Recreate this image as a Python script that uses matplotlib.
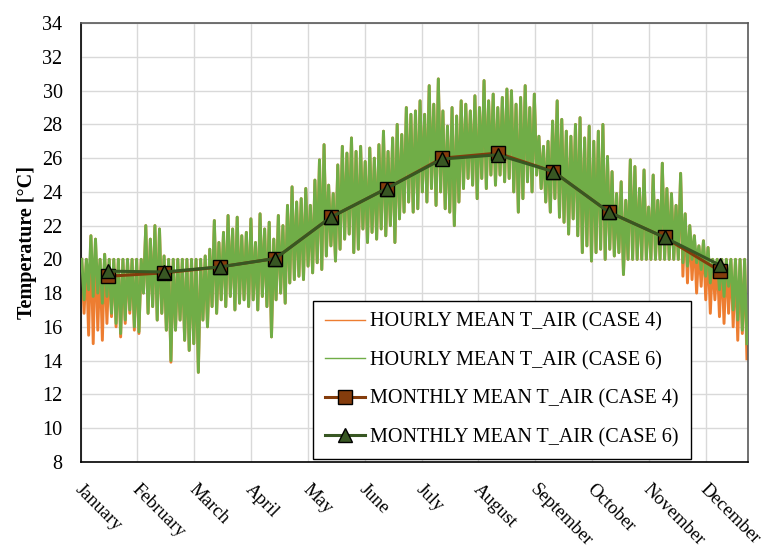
import numpy as np
import matplotlib
matplotlib.use('Agg')
import matplotlib.pyplot as plt
from matplotlib.transforms import offset_copy

plt.rcParams['font.family'] = ['Liberation Serif', 'DejaVu Serif']

months = ['January', 'February', 'March', 'April', 'May', 'June', 'July',
          'August', 'September', 'October', 'November', 'December']

# monthly mean air temperature [C]
mean_case4 = [19.0, 19.2, 19.55, 20.05, 22.5, 24.2, 26.0, 26.3, 25.2, 22.8, 21.3, 19.3]
mean_case6 = [19.3, 19.25, 19.55, 20.05, 22.5, 24.2, 25.95, 26.2, 25.2, 22.8, 21.3, 19.65]

# hourly series, peaks and troughs every 60 h (both cases share the peaks)
peak_hi = [20.0, 20.0, 21.4, 21.2, 20.0, 20.3, 20.0, 20.0, 20.0, 20.0, 20.0, 20.0, 20.0,
           20.0, 22.0, 21.2, 22.0, 21.8, 20.2, 20.0, 20.0, 20.0, 20.0, 20.0,
           20.0, 20.0, 20.0, 20.2, 20.6, 22.3, 21.0, 21.6, 22.6, 21.8, 22.5, 21.4,
           21.6, 22.4, 21.0, 22.7, 21.8, 22.2, 21.2, 22.6, 22.0, 23.2, 24.3, 23.4,
           23.6, 24.2, 23.2, 24.7, 25.9, 26.8, 24.4, 23.9, 25.6, 26.7, 26.3, 27.2,
           26.4, 26.7, 25.8, 26.6, 26.0, 26.8, 27.6, 26.4, 27.2, 28.0, 27.4, 29.0, 28.6,
           28.8, 29.4, 28.6, 30.3, 29.2, 30.7, 28.8, 27.9, 29.0, 28.5, 29.4, 29.2,
           28.8, 29.7, 29.0, 30.6, 29.4, 29.8, 29.0, 29.6, 30.1, 30.0, 29.2, 29.6,
           30.3, 29.0, 29.8, 27.3, 26.7, 27.0, 28.2, 29.4, 28.3, 27.6, 27.3, 28.0,
           28.4, 27.2, 27.9, 27.0, 27.6, 28.0, 26.1, 25.2, 23.9, 24.6, 23.5, 25.9, 25.5,
           24.2, 25.3, 23.1, 25.0, 23.5, 25.7, 24.2, 23.9, 23.2, 25.1, 22.7, 22.0,
           21.4, 20.8, 21.1, 20.7, 20.0, 20.0, 20.0, 20.0, 20.0, 20.0, 20.0, 20.0]

trough_case6 = [17.6, 18.2, 17.8, 18.0, 17.4, 17.8, 16.8, 16.2, 15.6, 16.4, 17.0, 16.0, 15.7,
                18.0, 16.8, 17.2, 16.4, 16.8, 15.8, 14.0, 15.8, 16.4, 15.2, 14.6,
                15.0, 13.3, 16.4, 16.0, 17.2, 16.8, 17.6, 17.2, 17.8, 17.0, 17.4, 17.6,
                17.2, 17.6, 17.0, 17.8, 17.2, 15.4, 17.6, 18.0, 17.4, 18.6, 18.8, 19.0,
                18.8, 19.6, 19.2, 19.8, 19.4, 20.2, 20.8, 19.9, 20.6, 21.2, 21.5, 20.4,
                20.6, 21.8, 21.0, 21.6, 21.2, 21.8, 21.4, 22.0, 21.0, 22.4, 22.8, 23.4, 22.8,
                23.0, 24.0, 23.4, 24.2, 23.2, 24.0, 23.0, 22.8, 22.0, 23.4, 24.2, 24.8,
                24.4, 23.6, 24.8, 24.2, 25.0, 24.4, 25.0, 24.6, 24.8, 24.0, 22.8, 23.6,
                24.6, 24.0, 25.0, 24.2, 23.4, 22.8, 23.6, 22.5, 22.2, 21.5, 22.4, 21.4,
                20.4, 20.8, 19.9, 20.4, 20.6, 20.0, 20.6, 20.2, 20.4, 19.1, 20.0, 20.0, 20.0,
                20.0, 20.0, 20.0, 20.0, 20.0, 20.0, 20.0, 20.0, 20.0, 19.8, 19.6, 20.0,
                19.8, 19.4, 19.0, 18.6, 19.0, 18.2, 17.8, 18.4, 17.0, 16.4, 15.8, 15.0]

trough_case4 = [16.8, 15.5, 15.0, 15.8, 15.2, 16.2, 16.6, 16.0, 15.4, 16.2, 16.8, 15.8, 15.6,
                18.0, 16.8, 17.2, 16.4, 16.8, 15.8, 13.9, 15.8, 16.4, 15.2, 14.6,
                15.0, 13.3, 16.4, 16.0, 17.2, 16.8, 17.6, 17.2, 17.8, 17.0, 17.4, 17.6,
                17.2, 17.6, 17.0, 17.8, 17.2, 15.4, 17.6, 18.0, 17.4, 18.6, 18.8, 19.0,
                18.8, 19.6, 19.2, 19.8, 19.4, 20.2, 20.8, 19.9, 20.6, 21.2, 21.5, 20.4,
                20.6, 21.8, 21.0, 21.6, 21.2, 21.8, 21.4, 22.0, 21.0, 22.4, 22.8, 23.4, 22.8,
                23.0, 24.0, 23.4, 24.2, 23.2, 24.0, 23.0, 22.8, 22.0, 23.4, 24.2, 24.8,
                24.4, 23.6, 24.8, 24.2, 25.0, 24.4, 25.0, 24.6, 24.8, 24.0, 22.8, 23.6,
                24.6, 24.0, 25.0, 24.2, 23.4, 22.8, 23.6, 22.5, 22.2, 21.5, 22.4, 21.4,
                20.4, 20.8, 19.9, 20.4, 20.6, 20.0, 20.6, 20.2, 20.4, 19.1, 20.0, 20.0, 20.0,
                20.0, 20.0, 20.0, 20.0, 20.0, 20.0, 20.0, 20.0, 20.0, 19.0, 18.6, 18.8,
                18.0, 18.4, 17.6, 16.8, 17.6, 16.6, 16.2, 16.8, 16.0, 15.2, 15.6, 14.1]

hours_year = 8760
grid_step = 746
step = hours_year / len(peak_hi)
k = np.arange(len(peak_hi))
x_hourly = np.column_stack([(k + 0.25) * step, (k + 0.75) * step]).ravel()
y_case4 = np.column_stack([peak_hi, trough_case4]).ravel()
y_case6 = np.column_stack([peak_hi, trough_case6]).ravel()

x_month = (np.arange(12) + 0.5) * hours_year / 12

fs = 14.5
fig = plt.figure(figsize=(7.68, 5.54), dpi=100)
ax = fig.add_axes([0.105, 0.1666, 0.869, 0.7914])

ax.plot(x_hourly, y_case4, color='#ED7D31', lw=2.1,
        label='HOURLY MEAN T_AIR (CASE 4)', zorder=2)
ax.plot(x_hourly, y_case6, color='#70AD47', lw=2.1,
        label='HOURLY MEAN T_AIR (CASE 6)', zorder=3)
ax.plot(x_month, mean_case4, color='#843C0C', lw=2.2, marker='s', ms=10,
        mfc='#843C0C', mec='black', mew=1.0, label='MONTHLY MEAN T_AIR (CASE 4)', zorder=4)
ax.plot(x_month, mean_case6, color='#385723', lw=2.2, marker='^', ms=10.5,
        mfc='#385723', mec='black', mew=1.0, label='MONTHLY MEAN T_AIR (CASE 6)', zorder=5)

ax.set_xlim(0, hours_year)
ax.set_ylim(8, 34)
ax.set_yticks(np.arange(8, 35, 2))
ax.set_xticks(np.arange(0, hours_year, grid_step))
ax.set_xticklabels([])
ax.tick_params(axis='both', length=0, labelsize=fs)
ax.tick_params(axis='y', pad=13)
ax.grid(True, color='#D9D9D9', lw=1.0, zorder=0)
ax.set_axisbelow(True)
for side in ['top', 'right']:
    ax.spines[side].set_color('#595959')
    ax.spines[side].set_linewidth(1.2)
for side in ['left', 'bottom']:
    ax.spines[side].set_color('black')
    ax.spines[side].set_linewidth(1.2)

ax.set_ylabel('Temperature [°C]', fontsize=fs, fontweight='bold', labelpad=4)

# rotated month names along the bottom axis
for i, name in enumerate(months):
    tr = offset_copy(ax.get_xaxis_transform(), fig=fig, x=3, y=-19, units='dots')
    ax.text(i * grid_step, 0, name, transform=tr, rotation=-45, rotation_mode='anchor',
            ha='left', va='top', fontsize=13.5)

leg = ax.legend(loc='lower left', bbox_to_anchor=(0.348, 0.006),
                fontsize=fs, frameon=True, fancybox=False, edgecolor='black',
                framealpha=1, handlelength=2.0, handletextpad=0.25, labelspacing=0.95,
                borderpad=0.6, borderaxespad=0)
leg.get_frame().set_linewidth(1.0)
for line in leg.get_lines()[:2]:
    line.set_linewidth(1.0)

fig.savefig('out.png', dpi=100)
